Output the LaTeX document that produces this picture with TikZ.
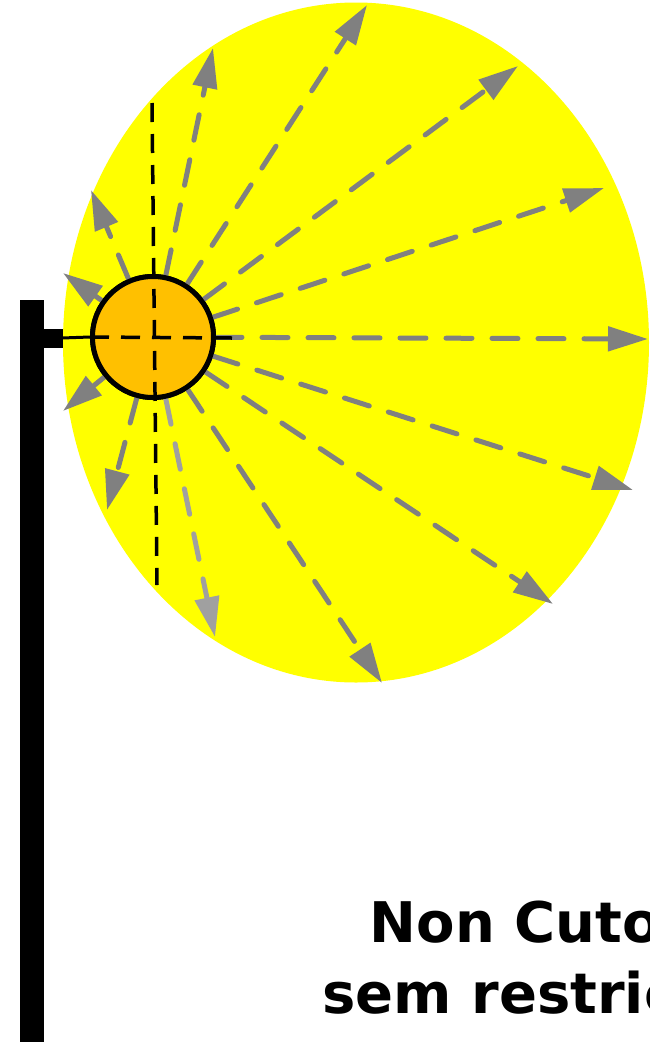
\documentclass[tikz,border=0pt]{standalone}
\usepackage{fontspec}
\newfontfamily\labelfont{DejaVu Sans}
\usetikzlibrary{arrows.meta}
\definecolor{lightyellow}{RGB}{255,255,0}
\definecolor{lamporange}{RGB}{255,192,0}
\definecolor{raygray}{RGB}{128,128,128}
\definecolor{raylight}{RGB}{160,160,160}
\begin{document}
\begin{tikzpicture}[x=1pt,y=-1pt,
  ray/.style={draw=raygray, line width=5pt, line cap=round,
    dash pattern=on 26pt off 20pt,
    -{Triangle[length=40pt,width=24pt,fill=raygray]}},
  raylt/.style={ray, draw=raylight, -{Triangle[length=40pt,width=24pt,fill=raylight]}},
  axis/.style={draw=black, line width=3.5pt, dash pattern=on 19pt off 12pt},
  lbl/.style={font=\labelfont\bfseries\fontsize{56}{70}\selectfont, inner sep=0pt, anchor=base},
  lamp/.style={circle, draw=black, line width=5pt, fill=lamporange, minimum size=121pt, inner sep=0pt}]
\useasboundingbox (0,0) rectangle (650,1042);
% light area
\fill[lightyellow] (356,342.5) ellipse [x radius=293, y radius=340];
% pole and arm
\fill[black] (20,300) rectangle (44,1042);
\fill[black] (44,329) rectangle (63,348);
% lamp (placed first so rays can refer to it)
\node[lamp] (c) at (153,337) {};
% ray end points
\coordinate (t1) at (648,339);
\coordinate (t2) at (367,5);
\coordinate (t3) at (213,48);
\coordinate (t4) at (518,66);
\coordinate (t5) at (604,188);
\coordinate (t6) at (91,190);
\coordinate (t7) at (63,273);
\coordinate (t8) at (63,411);
\coordinate (t9) at (107,510);
\coordinate (t10) at (215,637);
\coordinate (t11) at (382,683);
\coordinate (t12) at (553,604);
\coordinate (t13) at (633,490);
\foreach \t in {t1,t2,t3,t4,t5,t6,t7,t8,t9,t11,t12,t13}
  \draw[ray] (c) -- (\t);
\draw[raylt] (c) -- (t10);
% lamp on top of the ray starts
\node[lamp] at (c) {};
% axes
\coordinate (armend) at (62,338);
\coordinate (hR) at (232,338);
\coordinate (vT) at (152,103);
\coordinate (vB) at (157,585);
\draw[line width=3pt] (armend) -- (c.west);
\draw[axis] (c.west) -- (hR);
\draw[axis] (vT) -- (vB);
% label
\node[lbl] (l1) at (538,942) {Non Cutoff};
\node[lbl] (l2) at (538,1013) {sem restrição};
\end{tikzpicture}
\end{document}
